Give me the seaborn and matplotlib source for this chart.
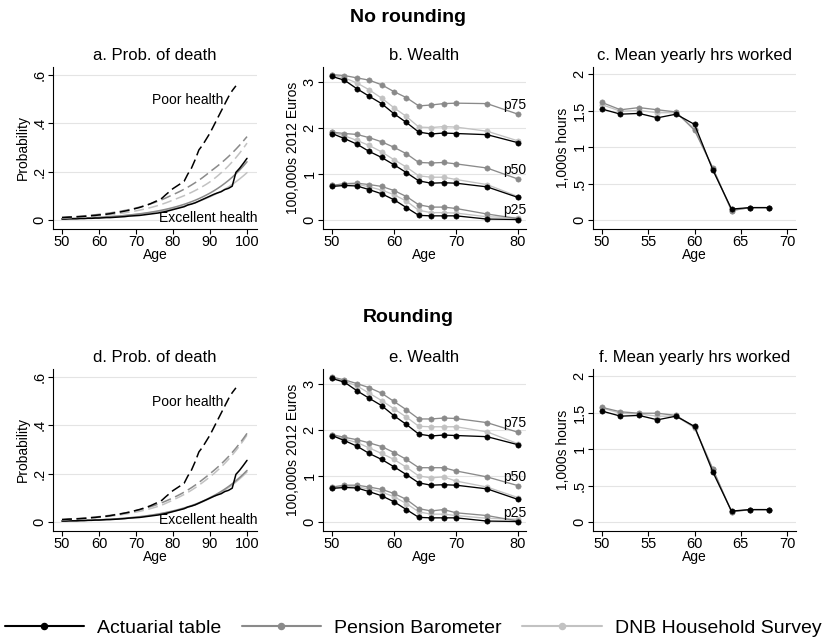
import matplotlib
matplotlib.use("Agg")
import matplotlib.pyplot as plt
from matplotlib.lines import Line2D
import seaborn as sns

# ---------------------------------------------------------------- data
sources = ["Actuarial table", "Pension Barometer", "DNB Household Survey"]

# Probability of death, ages 50-100 (actuarial "poor health" runs to 97)
death_ages = list(range(50, 101))
death_ages_poor_act = list(range(50, 98))

act_excellent = [.004, .004, .005, .005, .005, .006, .006, .007, .007, .008,
                 .008, .009, .010, .010, .011, .012, .013, .014, .016, .017,
                 .018, .019, .021, .023, .025, .027, .029, .032, .035, .039,
                 .043, .047, .051, .055, .062, .066, .071, .078, .085, .092,
                 .099, .106, .112, .117, .126, .131, .140, .197, .214, .234, .255]
act_poor = [.010, .011, .012, .012, .013, .014, .015, .016, .018, .019,
            .021, .022, .024, .026, .029, .031, .034, .037, .040, .044,
            .048, .052, .057, .062, .068, .075, .082, .090, .104, .117,
            .130, .140, .150, .160, .190, .215, .250, .290, .310, .335,
            .360, .390, .420, .450, .480, .510, .535, .555]

# no rounding
pb_excellent_nr = [.0050, .0054, .0058, .0063, .0068, .0074, .0080, .0086, .0093, .0101,
                   .0110, .0118, .0128, .0138, .0149, .0161, .0174, .0188, .0203, .0220,
                   .0238, .0257, .0277, .0300, .0324, .0350, .0378, .0408, .0441, .0477,
                   .0515, .0556, .0601, .0649, .0701, .0758, .0818, .0884, .0955, .1032,
                   .1114, .1204, .1300, .1404, .1517, .1638, .1770, .1912, .2065, .2230, .2409]
dnb_excellent_nr = [.0055, .0059, .0063, .0068, .0073, .0079, .0084, .0091, .0097, .0105,
                    .0112, .0121, .0130, .0139, .0150, .0161, .0173, .0185, .0199, .0214,
                    .0230, .0247, .0265, .0285, .0306, .0328, .0353, .0379, .0407, .0437,
                    .0470, .0505, .0543, .0583, .0626, .0672, .0722, .0775, .0832, .0894,
                    .0960, .1031, .1107, .1189, .1277, .1372, .1473, .1582, .1699, .1825, .1960]
pb_poor_nr = [.0110, .0119, .0128, .0138, .0149, .0160, .0173, .0186, .0201, .0217,
              .0234, .0252, .0272, .0293, .0316, .0341, .0368, .0396, .0427, .0461,
              .0497, .0536, .0578, .0623, .0672, .0724, .0781, .0842, .0908, .0979,
              .1050, .1120, .1194, .1273, .1358, .1448, .1544, .1646, .1755, .1872,
              .2000, .2112, .2231, .2356, .2488, .2627, .2774, .2930, .3094, .3268, .3450]
dnb_poor_nr = [.0080, .0086, .0093, .0101, .0109, .0118, .0127, .0138, .0149, .0161,
               .0174, .0188, .0203, .0220, .0237, .0257, .0277, .0300, .0324, .0350,
               .0379, .0409, .0442, .0478, .0517, .0558, .0603, .0652, .0705, .0762,
               .0830, .0885, .0944, .1006, .1073, .1144, .1220, .1301, .1387, .1479,
               .1580, .1695, .1818, .1950, .2091, .2243, .2405, .2579, .2766, .2967, .3180]

# rounding
pb_excellent_r = [.0040, .0043, .0047, .0051, .0055, .0060, .0065, .0070, .0076, .0083,
                  .0090, .0098, .0106, .0115, .0125, .0135, .0147, .0159, .0173, .0187,
                  .0203, .0221, .0239, .0260, .0282, .0306, .0332, .0360, .0391, .0424,
                  .0460, .0497, .0538, .0582, .0629, .0680, .0736, .0796, .0861, .0931,
                  .1010, .1089, .1173, .1264, .1362, .1468, .1582, .1705, .1838, .1980, .2134]
dnb_excellent_r = [.0039, .0042, .0046, .0049, .0054, .0058, .0063, .0068, .0074, .0080,
                   .0087, .0095, .0103, .0112, .0121, .0131, .0143, .0154, .0168, .0181,
                   .0197, .0214, .0232, .0252, .0274, .0297, .0322, .0349, .0379, .0411,
                   .0446, .0482, .0522, .0565, .0610, .0660, .0714, .0772, .0835, .0903,
                   .0980, .1056, .1138, .1226, .1321, .1424, .1535, .1654, .1783, .1921, .2070]
pb_poor_r = [.0105, .0113, .0122, .0131, .0141, .0152, .0164, .0177, .0191, .0206,
             .0222, .0239, .0258, .0278, .0300, .0323, .0348, .0376, .0405, .0437,
             .0471, .0508, .0548, .0591, .0637, .0687, .0741, .0799, .0862, .0930,
             .1000, .1073, .1151, .1235, .1325, .1421, .1525, .1636, .1755, .1874,
             .2000, .2125, .2258, .2399, .2549, .2708, .2877, .3057, .3248, .3451, .3667]
dnb_poor_r = [.0090, .0097, .0105, .0113, .0122, .0131, .0142, .0153, .0165, .0178,
              .0192, .0207, .0223, .0241, .0260, .0281, .0303, .0327, .0353, .0381,
              .0411, .0443, .0478, .0516, .0557, .0601, .0649, .0700, .0770, .0838,
              .0910, .0983, .1058, .1138, .1224, .1316, .1415, .1522, .1636, .1750,
              .1870, .1996, .2131, .2275, .2429, .2593, .2768, .2955, .3155, .3368, .3596]

# Wealth percentiles (100,000s of 2012 euros)
wealth_ages = [50, 52, 54, 56, 58, 60, 62, 64, 66, 68, 70, 75, 80]
act_p75 = [3.12, 3.04, 2.855, 2.69, 2.53, 2.31, 2.12, 1.91, 1.87, 1.89, 1.88, 1.855, 1.68]
act_p50 = [1.88, 1.77, 1.65, 1.49, 1.36, 1.20, 1.03, 0.85, 0.80, 0.81, 0.80, 0.72, 0.49]
act_p25 = [0.73, 0.75, 0.74, 0.66, 0.57, 0.44, 0.27, 0.10, 0.09, 0.09, 0.09, 0.02, 0.01]

pb_p75_nr = [3.16, 3.14, 3.09, 3.04, 2.94, 2.79, 2.66, 2.48, 2.50, 2.53, 2.54, 2.53, 2.30]
pb_p50_nr = [1.91, 1.88, 1.86, 1.79, 1.70, 1.58, 1.44, 1.25, 1.24, 1.25, 1.22, 1.13, 0.89]
pb_p25_nr = [0.75, 0.79, 0.80, 0.77, 0.73, 0.64, 0.51, 0.33, 0.28, 0.28, 0.25, 0.13, 0.03]
dnb_p75_nr = [3.15, 3.09, 2.98, 2.83, 2.65, 2.44, 2.25, 2.02, 2.01, 2.03, 2.02, 1.93, 1.72]
dnb_p50_nr = [1.91, 1.83, 1.73, 1.62, 1.48, 1.31, 1.15, 0.96, 0.93, 0.93, 0.88, 0.77, 0.51]
dnb_p25_nr = [0.75, 0.78, 0.78, 0.72, 0.65, 0.55, 0.41, 0.21, 0.16, 0.16, 0.15, 0.07, 0.05]

pb_p75_r = [3.15, 3.09, 3.01, 2.92, 2.80, 2.62, 2.44, 2.24, 2.24, 2.26, 2.25, 2.16, 1.95]
pb_p50_r = [1.90, 1.84, 1.79, 1.72, 1.64, 1.51, 1.36, 1.18, 1.18, 1.18, 1.11, 0.98, 0.79]
pb_p25_r = [0.76, 0.80, 0.80, 0.76, 0.71, 0.62, 0.49, 0.29, 0.24, 0.27, 0.20, 0.14, 0.02]
dnb_p75_r = [3.14, 3.06, 2.96, 2.80, 2.64, 2.46, 2.28, 2.08, 2.07, 2.07, 2.07, 1.96, 1.70]
dnb_p50_r = [1.89, 1.80, 1.73, 1.61, 1.49, 1.36, 1.19, 1.00, 0.96, 0.98, 0.89, 0.76, 0.53]
dnb_p25_r = [0.74, 0.78, 0.76, 0.72, 0.65, 0.55, 0.40, 0.22, 0.17, 0.17, 0.14, 0.08, 0.06]

# Mean yearly hours worked (1,000s)
hours_ages = [50, 52, 54, 56, 58, 60, 62, 64, 66, 68]
act_hours = [1.52, 1.45, 1.46, 1.40, 1.45, 1.31, 0.68, 0.15, 0.17, 0.17]
pb_hours_nr = [1.61, 1.51, 1.54, 1.51, 1.48, 1.23, 0.71, 0.13, 0.17, 0.17]
dnb_hours_nr = [1.58, 1.49, 1.50, 1.47, 1.47, 1.25, 0.70, 0.13, 0.17, 0.17]
pb_hours_r = [1.57, 1.51, 1.49, 1.49, 1.46, 1.30, 0.72, 0.14, 0.17, 0.17]
dnb_hours_r = [1.56, 1.49, 1.48, 1.45, 1.45, 1.29, 0.72, 0.14, 0.17, 0.17]

# ticks
death_xticks = [50, 60, 70, 80, 90, 100]
death_yticks = [0, .2, .4, .6]
death_yticklabels = ["0", ".2", ".4", ".6"]
wealth_xticks = [50, 60, 70, 80]
wealth_yticks = [0, 1, 2, 3]
wealth_yticklabels = ["0", "1", "2", "3"]
hours_xticks = [50, 55, 60, 65, 70]
hours_yticks = [0, .5, 1, 1.5, 2]
hours_yticklabels = ["0", ".5", "1", "1.5", "2"]

# ---------------------------------------------------------------- style
W, H = 823, 643
sns.set_theme(style="ticks")
plt.rcParams["font.family"] = ["Liberation Sans", "DejaVu Sans"]
plt.rcParams.update({
    "axes.edgecolor": "black",
    "text.color": "black",
    "axes.labelcolor": "black",
    "axes.titlecolor": "black",
    "xtick.color": "black",
    "ytick.color": "black",
})

BLACK, MID, LIGHT = "#000000", "#8a8a8a", "#c2c2c2"
COLORS = [BLACK, MID, LIGHT]
DASH = (0, (6.5, 3))

fig = plt.figure(figsize=(W / 100, H / 100), dpi=100)


def px_axes(left, top, right, bottom):
    return fig.add_axes([left / W, 1 - bottom / H, (right - left) / W, (bottom - top) / H])


def style_axes(ax, xlim, ylim, xticks, yticks, yticklabels, ylabel, title):
    ax.set_xlim(*xlim)
    ax.set_ylim(*ylim)
    ax.set_xticks(xticks)
    ax.set_xticklabels([str(t) for t in xticks])
    ax.set_yticks(yticks)
    ax.set_yticklabels(yticklabels, rotation=90, va="center")
    ax.grid(axis="y", color="#e4e4e4", lw=0.8)
    ax.grid(axis="x", visible=False)
    ax.set_axisbelow(True)
    for s in ("top", "right"):
        ax.spines[s].set_visible(False)
    for s in ("left", "bottom"):
        ax.spines[s].set_color("black")
        ax.spines[s].set_linewidth(0.8)
    ax.tick_params(direction="out", length=3.6, width=0.8, colors="black",
                   labelsize=10.5, pad=1)
    ax.set_xlabel("Age", fontsize=10, labelpad=-1)
    ax.set_ylabel(ylabel, fontsize=10, labelpad=2)
    ax.set_title(title, fontsize=12, pad=5)


def draw_line(ax, x, y, color, dashed=False, markers=False, lw=1.1):
    kws = dict(color=color, linewidth=lw, legend=False, ax=ax)
    if dashed:
        kws["linestyle"] = DASH
    if markers:
        kws.update(marker="o", markersize=3.8, markeredgecolor=color, markeredgewidth=0.4)
    sns.lineplot(x=x, y=y, **kws)


def death_panel(ax, pb_exc, dnb_exc, pb_poor, dnb_poor, title):
    draw_line(ax, death_ages, dnb_exc, LIGHT)
    draw_line(ax, death_ages, pb_exc, MID)
    draw_line(ax, death_ages, act_excellent, BLACK)
    draw_line(ax, death_ages, dnb_poor, LIGHT, dashed=True)
    draw_line(ax, death_ages, pb_poor, MID, dashed=True)
    draw_line(ax, death_ages_poor_act, act_poor, BLACK, dashed=True)
    ax.text(93.6, 0.495, "Poor health", ha="right", va="center", fontsize=10)
    ax.text(102.8, 0.008, "Excellent health", ha="right", va="center", fontsize=10)
    style_axes(ax, (47.57, 102.7), (-0.0372, 0.633), death_xticks, death_yticks,
               death_yticklabels, "Probability", title)


def wealth_panel(ax, pb, dnb, label_y, title):
    for pb_s, dnb_s, act_s in zip(pb, dnb, [act_p75, act_p50, act_p25]):
        draw_line(ax, wealth_ages, dnb_s, LIGHT, markers=True, lw=0.95)
        draw_line(ax, wealth_ages, pb_s, MID, markers=True, lw=0.95)
        draw_line(ax, wealth_ages, act_s, BLACK, markers=True, lw=0.95)
    for name, yv in zip(["p75", "p50", "p25"], label_y):
        ax.text(81.4, yv, name, ha="right", va="center", fontsize=10)
    style_axes(ax, (48.55, 81.29), (-0.196, 3.326), wealth_xticks, wealth_yticks,
               wealth_yticklabels, "100,000s 2012 Euros", title)


def hours_panel(ax, pb, dnb, title):
    draw_line(ax, hours_ages, dnb, LIGHT, markers=True, lw=0.95)
    draw_line(ax, hours_ages, pb, MID, markers=True, lw=0.95)
    draw_line(ax, hours_ages, act_hours, BLACK, markers=True, lw=0.95)
    style_axes(ax, (49.03, 70.97), (-0.123, 2.096), hours_xticks, hours_yticks,
               hours_yticklabels, "1,000s hours", title)


rows = [(67, 229), (369, 531)]
cols = [(53, 257), (323, 526), (593, 796)]

# top row: no rounding
ax_a = px_axes(cols[0][0], rows[0][0], cols[0][1], rows[0][1])
ax_b = px_axes(cols[1][0], rows[0][0], cols[1][1], rows[0][1])
ax_c = px_axes(cols[2][0], rows[0][0], cols[2][1], rows[0][1])
death_panel(ax_a, pb_excellent_nr, dnb_excellent_nr, pb_poor_nr, dnb_poor_nr,
            "a. Prob. of death")
wealth_panel(ax_b, [pb_p75_nr, pb_p50_nr, pb_p25_nr], [dnb_p75_nr, dnb_p50_nr, dnb_p25_nr],
             [2.49, 1.09, 0.21], "b. Wealth")
hours_panel(ax_c, pb_hours_nr, dnb_hours_nr, "c. Mean yearly hrs worked")

# bottom row: rounding
ax_d = px_axes(cols[0][0], rows[1][0], cols[0][1], rows[1][1])
ax_e = px_axes(cols[1][0], rows[1][0], cols[1][1], rows[1][1])
ax_f = px_axes(cols[2][0], rows[1][0], cols[2][1], rows[1][1])
death_panel(ax_d, pb_excellent_r, dnb_excellent_r, pb_poor_r, dnb_poor_r,
            "d. Prob. of death")
wealth_panel(ax_e, [pb_p75_r, pb_p50_r, pb_p25_r], [dnb_p75_r, dnb_p50_r, dnb_p25_r],
             [2.15, 0.98, 0.20], "e. Wealth")
hours_panel(ax_f, pb_hours_r, dnb_hours_r, "f. Mean yearly hrs worked")

fig.text(408 / W, 1 - 17 / H, "No rounding", ha="center", va="center",
         fontsize=14, fontweight="bold")
fig.text(408 / W, 1 - 318 / H, "Rounding", ha="center", va="center",
         fontsize=14, fontweight="bold")

handles = [Line2D([], [], color=c, lw=1.5, marker="o", markersize=4.4,
                  markeredgecolor=c) for c in COLORS]
fig.legend(handles, sources, loc="center", bbox_to_anchor=(413 / W, 1 - 628 / H),
           ncol=3, frameon=False, fontsize=14, handlelength=4.1, handletextpad=0.67,
           columnspacing=1.03, borderpad=0, borderaxespad=0, numpoints=1)

fig.savefig("out.png", dpi=100, facecolor="white")
